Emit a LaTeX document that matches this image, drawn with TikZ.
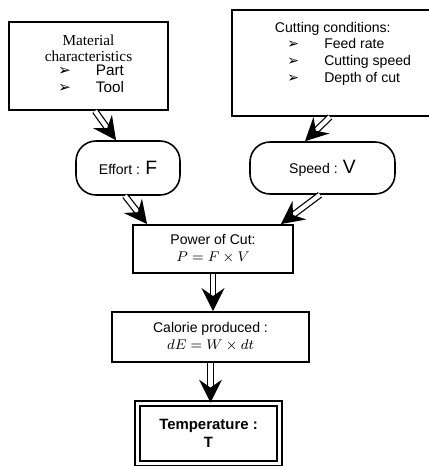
\documentclass[tikz,border=0pt]{standalone}
\usepackage{fontspec}
\setmainfont{Liberation Serif}
\setsansfont{Liberation Sans}
\newfontfamily\symfont{DejaVu Sans}
\usetikzlibrary{arrows.meta,positioning,calc}

\newcommand{\bul}{{\symfont ➢}}
\newcommand{\bigletter}[1]{{\fontsize{11}{12}\selectfont #1}}

\begin{document}
\begin{tikzpicture}[
    box/.style={rectangle, draw, line width=1.1pt, align=center, font=\sffamily\fontsize{8}{9.6}\selectfont},
    oval/.style={box, rounded corners=0.4cm, line width=0.9pt},
    final/.style={box, double, double distance=2pt, line width=1pt, font=\sffamily\bfseries\fontsize{8.5}{10.5}\selectfont},
    shaft/.style={double, double distance=2.4pt, line width=0.7pt, shorten >=3.2mm},
    head/.style={white, line width=0.7pt, -{Stealth[color=black, length=4.6mm, width=4.6mm, inset=1.6mm]}}
]

\useasboundingbox (0,0) rectangle (8.58,-9.32);
\clip (0,0) rectangle (8.58,-9.32);

% Inputs
\node[box, minimum width=3.18cm, minimum height=1.76cm] (mat) at (1.77,-1.32)
    {\rmfamily\fontsize{8.7}{9.6}\selectfont Material\\
     \rmfamily\fontsize{8.7}{9.6}\selectfont characteristics\\
     \fontsize{8.7}{9.6}\selectfont
     \hspace*{1mm}\begin{tabular}{@{}l@{\hspace{5mm}}l@{}} \bul & Part\\ \bul & Tool \end{tabular}};

\node[box, minimum width=4.16cm, text height=0.34cm, text depth=1.58cm, inner ysep=0.1cm] (cut) at (6.72,-1.26)
    {\hspace*{2.8mm}\begin{tabular}[t]{@{\hspace{2.5mm}}l@{\hspace{5mm}}l@{}}
     \multicolumn{2}{@{}l@{}}{Cutting conditions:}\\
     \bul & Feed rate\\
     \bul & Cutting speed\\
     \bul & Depth of cut
     \end{tabular}};

% Effort and speed
\node[oval, minimum width=2.08cm, minimum height=1.08cm] (eff) at (2.56,-3.36) {Effort : \bigletter{F}};
\node[oval, minimum width=2.9cm, minimum height=1.04cm] (spd) at (6.45,-3.36) {Speed : \bigletter{V}};

% Chain
\node[box, minimum width=3.2cm, minimum height=0.96cm] (pow) at (4.26,-4.98) {Power of Cut:\\ $P = F \times V$};
\node[box, minimum width=3.94cm, minimum height=1.0cm] (cal) at (4.21,-6.74) {Calorie produced :\\ $dE = W \times dt$};
\node[final, minimum width=2.84cm, minimum height=1.2cm] (tmp) at (4.17,-8.67) {Temperature :\\ T};

% Arrow ends
\coordinate (mat-out) at ([xshift=0.13cm]mat.south);
\coordinate (eff-in) at ([xshift=-0.24cm]eff.north);
\coordinate (cut-out) at ([xshift=-0.12cm]cut.south);
\coordinate (spd-in) at ([xshift=-0.35cm]spd.north);
\coordinate (eff-out) at ([xshift=-0.06cm]eff.south);
\coordinate (pow-inl) at ([xshift=0.3cm]pow.north west);
\coordinate (spd-out) at ([xshift=-0.05cm]spd.south);
\coordinate (pow-inr) at ([xshift=-0.26cm]pow.north east);
\coordinate (pow-out) at (pow.south);
\coordinate (cal-in) at (pow.south |- cal.north);
\coordinate (cal-out) at (cal.south);
\coordinate (tmp-in) at (cal.south |- tmp.north);

% Connections: double shafts
\draw[shaft] (mat-out) -- (eff-in);
\draw[shaft] (cut-out) -- (spd-in);
\draw[shaft] (eff-out) -- (pow-inl);
\draw[shaft] (spd-out) -- (pow-inr);
\draw[shaft] (pow-out) -- (cal-in);
\draw[shaft] (cal-out) -- (tmp-in);

% Connections: solid heads on top
\draw[head] ($(eff-in)!6mm!(mat-out)$) -- (eff-in);
\draw[head] ($(spd-in)!6mm!(cut-out)$) -- (spd-in);
\draw[head] ($(pow-inl)!6mm!(eff-out)$) -- (pow-inl);
\draw[head] ($(pow-inr)!6mm!(spd-out)$) -- (pow-inr);
\draw[head] ($(cal-in)!6mm!(pow-out)$) -- (cal-in);
\draw[head] ($(tmp-in)!6mm!(cal-out)$) -- (tmp-in);

\end{tikzpicture}
\end{document}
